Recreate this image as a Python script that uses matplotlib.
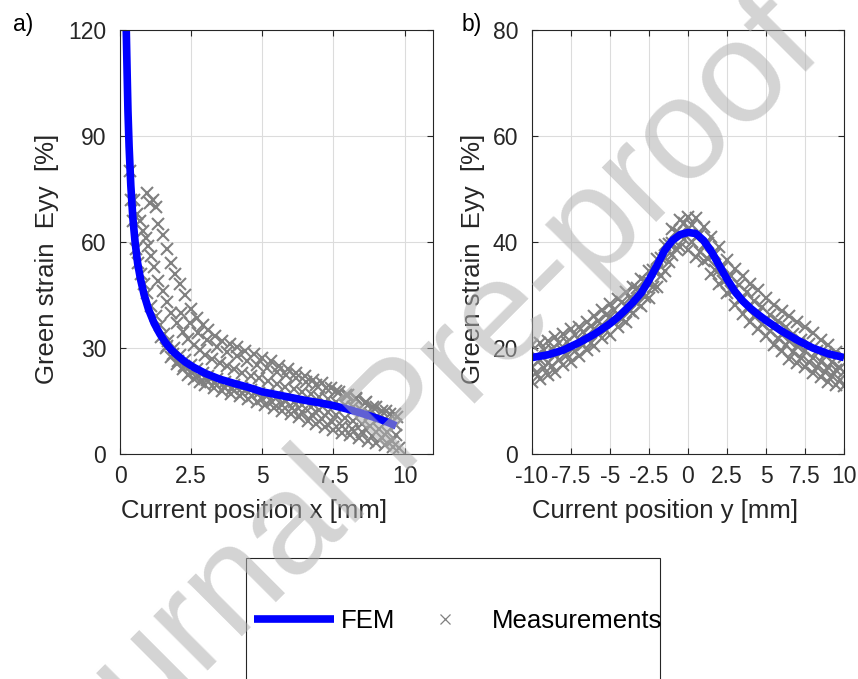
import matplotlib
matplotlib.use("Agg")
import matplotlib.pyplot as plt
from matplotlib.lines import Line2D
from matplotlib.patches import Rectangle

plt.rcParams['font.family'] = ['Liberation Sans', 'DejaVu Sans']

# ---- a) strain along x ----
fem_x_a = [0.22, 0.25, 0.28, 0.32, 0.38, 0.45, 0.53, 0.62, 0.72, 0.85, 1.0, 1.2, 1.4, 1.6,
           1.8, 2.0, 2.3, 2.6, 3.0, 3.5, 4.0, 4.5, 5.0, 5.5, 6.0, 6.5, 7.0, 7.5, 8.0, 8.5,
           9.0, 9.4, 9.7]
fem_y_a = [120, 108, 97, 87, 76, 67, 60, 54, 49.5, 45, 41, 37, 34, 31.5,
           29.5, 28, 26, 24.5, 22.8, 21.2, 20, 18.9, 17.6, 16.8, 16, 15.2, 14.5, 13.7, 12.7, 11.5,
           10.2, 9, 8]

meas_a_x1 = [0.95, 1.05, 1.15, 1.25, 1.35, 1.5, 1.65, 1.8, 1.95, 2.1, 2.3, 2.5, 2.7, 2.9, 3.1,
             3.35, 3.6, 3.85, 4.1, 4.4, 4.7, 5.0, 5.3, 5.6, 5.9, 6.2, 6.5, 6.8, 7.1, 7.4, 7.7,
             8.0, 8.3, 8.6, 8.9, 9.2, 9.5, 9.75]
meas_a_y1 = [74, 71, 72, 70, 65, 62, 58, 54, 51, 48, 45, 41, 38.5, 36.5, 35,
             33.5, 32, 31, 30.2, 29.2, 28.2, 27.2, 26.2, 25, 24, 23, 22, 21, 20, 18.8, 17.6,
             16.6, 15.6, 14.4, 13.3, 12.3, 11.3, 10.4]

meas_a_x2 = [0.5, 0.6, 0.7, 0.8, 0.9, 1.0, 1.1, 1.2, 1.35, 1.5, 1.65, 1.8, 2.0, 2.2, 2.4, 2.6,
             2.8, 3.0, 3.25, 3.5, 3.75, 4.0, 4.3, 4.6, 4.9, 5.2, 5.5, 5.8, 6.1, 6.4, 6.7, 7.0,
             7.3, 7.6, 7.9, 8.2, 8.5, 8.8, 9.1, 9.4, 9.7]
meas_a_y2 = [72, 68, 66, 63, 61, 59, 56, 53, 49, 46, 43, 40, 37, 34.5, 32.5, 30.8,
             29.3, 28, 26.8, 25.8, 24.8, 24, 23, 22.2, 21.4, 20.6, 19.8, 19, 18.3, 17.6, 16.9, 16.2,
             15.5, 14.8, 14, 13.2, 12.2, 11.2, 10.2, 9.2, 8.2]

meas_a_x3 = [0.35, 0.4, 0.45, 0.55, 0.65, 0.75, 0.85, 0.95, 1.1, 1.25, 1.4, 1.55, 1.7, 1.9,
             2.1, 2.3, 2.5, 2.7, 2.9, 3.1, 3.4, 3.7, 4.0, 4.3, 4.6, 4.9, 5.2, 5.5, 5.8, 6.1,
             6.4, 6.7, 7.0, 7.3, 7.6, 7.9, 8.2, 8.5, 8.8, 9.1, 9.4, 9.7]
meas_a_y3 = [80, 72, 66, 58, 54, 51, 48, 45.5, 42, 39, 36.5, 34, 32, 30,
             28, 26.5, 25.2, 24, 23, 22.2, 21.2, 20.3, 19.6, 18.8, 18, 17.4, 16.7, 16, 15.3, 14.6,
             13.9, 13.2, 12.5, 11.8, 11, 10.2, 9.4, 8.6, 7.8, 7, 6.2, 5.4]

meas_a_x4 = [1.6, 1.8, 2.0, 2.2, 2.4, 2.6, 2.8, 3.0, 3.3, 3.6, 3.9, 4.2, 4.5, 4.8, 5.1, 5.4,
             5.7, 6.0, 6.3, 6.6, 6.9, 7.2, 7.5, 7.8, 8.1, 8.4, 8.7, 9.0, 9.3, 9.6, 9.8]
meas_a_y4 = [30, 27.5, 25.5, 24, 22.5, 21.3, 20.5, 19.6, 18.6, 17.8, 17.1, 16.4, 15.6, 14.8, 14, 13.1,
             12.2, 11.3, 10.4, 9.4, 8.5, 7.6, 6.7, 6, 5.3, 4.5, 3.8, 3.2, 2.6, 2.0, 1.6]

meas_a_x5 = [2.15, 2.45, 2.75, 3.05, 3.4, 3.75, 4.1, 4.45, 4.8, 5.15, 5.5, 5.85, 6.2, 6.55,
             6.9, 7.25, 7.6, 7.95, 8.3, 8.65, 9.0, 9.35, 9.65]
meas_a_y5 = [40, 37, 34.3, 32.2, 30.4, 29, 27.6, 26.4, 25.3, 24.3, 23.3, 22.4, 21.4, 20.5,
             19.6, 18.7, 17.8, 16.8, 15.8, 14.6, 13.4, 12.2, 11.2]

meas_a_x6 = [1.45, 1.65, 1.85, 2.05, 2.25, 2.5, 2.75, 3.05, 3.35, 3.65, 3.95, 4.3, 4.65, 5.0,
             5.35, 5.7, 6.05, 6.4, 6.75, 7.1, 7.45, 7.8, 8.15, 8.5, 8.85, 9.2, 9.55]
meas_a_y6 = [33, 30.5, 28.2, 26.3, 24.8, 23.2, 22, 20.9, 20, 19.1, 18.3, 17.4, 16.5, 15.6,
             14.8, 13.9, 13, 12, 11, 10, 9, 8, 7, 6.1, 5.2, 4.4, 3.6]

# ---- b) strain along y ----
fem_x_b = [-10, -9, -8, -7, -6, -5, -4.5, -4, -3.5, -3, -2.5, -2, -1.5, -1, -0.5, 0, 0.5, 1,
           1.5, 2, 2.5, 3, 3.5, 4, 4.5, 5, 6, 7, 8, 9, 10]
fem_y_b = [18.2, 18.7, 19.6, 21, 22.6, 24.6, 25.8, 27.2, 28.7, 30.4, 32.8, 35.5, 38.4, 40.3,
           41.4, 41.8, 41.6, 40.3, 38.2, 35.6, 33, 30.7, 28.9, 27.5, 26.3, 25.2, 23.2, 21.5,
           20, 18.9, 18.2]

meas_b_x1 = [-10, -9.5, -9, -8.5, -8, -7.5, -7, -6.5, -6, -5.5, -5, -4.5, -4, -3.5, -3, -2.5,
             -2, -1.5, -1, -0.5, 0, 0.5, 1, 1.5, 2, 2.5, 3, 3.5, 4, 4.5, 5, 5.5, 6, 6.5, 7,
             7.5, 8, 8.5, 9, 9.5, 10]
meas_b_y1 = [20.5, 21, 21.3, 22, 22.6, 23.5, 24, 25, 26, 27.2, 28.3, 29.2, 30.5, 31.6, 33, 34.6,
             36.8, 39.5, 42.5, 44.2, 44.8, 44.5, 42.8, 41, 39, 36.6, 35, 33.5, 32, 31, 29.5, 28.2,
             27, 26, 25, 24, 22.8, 21.6, 20.5, 19.2, 18.3]
meas_b_y2 = [16.5, 17.8, 17.2, 18.6, 19.4, 20, 21.5, 22.2, 23.6, 24.4, 25.8, 26.5, 28, 29, 30.8,
             32.5, 34.5, 37, 39.8, 41.5, 42.5, 41, 39.5, 37.5, 34.8, 33, 31.2, 29.5, 28, 26.6,
             25.3, 24, 22.5, 21.4, 20.3, 19.4, 18.2, 17.3, 16.5, 15.8, 15.5]
meas_b_y3 = [13.5, 14.2, 15, 15.5, 16.8, 17.3, 18.5, 19.6, 20.3, 21.8, 22.5, 24, 25, 26.6, 28,
             29.5, 31.5, 34.5, 37.5, 39, 38.5, 37.2, 36.5, 34, 32, 30.3, 28.2, 26.5, 25, 23.5,
             22.3, 20.5, 19.4, 18, 17.2, 16.4, 15.2, 14.5, 13.6, 13, 12.8]

meas_b_x4 = [-9.75, -9.25, -8.75, -8.25, -7.75, -7.25, -6.75, -6.25, -5.75, -5.25, -4.75, -4.25,
             -3.75, -3.25, -2.75, -2.25, -1.75, -1.25, -0.75, -0.25, 0.25, 0.75, 1.25, 1.75,
             2.25, 2.75, 3.25, 3.75, 4.25, 4.75, 5.25, 5.75, 6.25, 6.75, 7.25, 7.75, 8.25,
             8.75, 9.25, 9.75]
meas_b_y4 = [18.5, 19.6, 19.8, 21, 21.2, 22.5, 23, 24.2, 25.1, 26.3, 27.2, 28.6, 29.4, 31.3,
             32.6, 34.8, 36.9, 39.6, 41.8, 43.6, 43.2, 41.5, 39.8, 37.8, 35.2, 33.6, 31.8, 30.5,
             28.8, 27.8, 26.2, 25.1, 24, 22.7, 21.6, 20.8, 19.5, 18.6, 17.4, 16.3]
meas_b_y5 = [15.2, 16.3, 16.6, 17.8, 18.6, 19.5, 20.6, 21, 22.6, 23.4, 24.8, 25.5, 27, 28.4,
             29.6, 31.6, 33.5, 36.3, 38.7, 40.5, 40, 38.2, 36.8, 34.8, 32.6, 30.8, 29, 27.5,
             26, 24.5, 23.2, 21.8, 20.6, 19.3, 18.2, 17.3, 16.4, 15.5, 14.8, 14]

xticks_a = [0, 2.5, 5, 7.5, 10]
xticklabels_a = ['0', '2.5', '5', '7.5', '10']
yticks_a = [0, 30, 60, 90, 120]
xticks_b = [-10, -7.5, -5, -2.5, 0, 2.5, 5, 7.5, 10]
xticklabels_b = ['-10', '-7.5', '-5', '-2.5', '0', '2.5', '5', '7.5', '10']
yticks_b = [0, 20, 40, 60, 80]

DARK = '#262626'
GRAY = '#808080'
BLUE = '#0000ff'

fig = plt.figure(figsize=(8.58, 6.79), dpi=100)
ax_a = fig.add_axes([120 / 858, 1 - 454 / 679, 313 / 858, 424 / 679])
ax_b = fig.add_axes([532 / 858, 1 - 454 / 679, 312 / 858, 424 / 679])


def style_axes(ax):
    ax.set_axisbelow(True)
    ax.grid(True, color='#dcdcdc', linewidth=0.8)
    for s in ax.spines.values():
        s.set_color(DARK)
        s.set_linewidth(0.8)
    ax.tick_params(direction='in', length=4, width=0.8, color=DARK, labelcolor=DARK,
                   labelsize=16.5, top=True, right=True)
    ax.tick_params(axis='x', pad=8)
    ax.tick_params(axis='y', pad=10)


mk = dict(linestyle='none', marker='x', color=GRAY, markersize=8.5, markeredgewidth=1.5)

for mx, my in [(meas_a_x1, meas_a_y1), (meas_a_x2, meas_a_y2), (meas_a_x3, meas_a_y3),
               (meas_a_x4, meas_a_y4), (meas_a_x5, meas_a_y5), (meas_a_x6, meas_a_y6)]:
    ax_a.plot(mx, my, **mk)
ax_a.plot(fem_x_a, fem_y_a, color=BLUE, linewidth=5.5, solid_capstyle='butt')
ax_a.set_xlim(0, 11)
ax_a.set_ylim(0, 120)
ax_a.set_xticks(xticks_a)
ax_a.set_xticklabels(xticklabels_a)
ax_a.set_yticks(yticks_a)
style_axes(ax_a)

for mx, my in [(meas_b_x1, meas_b_y1), (meas_b_x1, meas_b_y2), (meas_b_x1, meas_b_y3),
               (meas_b_x4, meas_b_y4), (meas_b_x4, meas_b_y5)]:
    ax_b.plot(mx, my, **mk)
ax_b.plot(fem_x_b, fem_y_b, color=BLUE, linewidth=5.5, solid_capstyle='butt')
ax_b.set_xlim(-10, 10)
ax_b.set_ylim(0, 80)
ax_b.set_xticks(xticks_b)
ax_b.set_xticklabels(xticklabels_b)
ax_b.set_yticks(yticks_b)
style_axes(ax_b)

for ax, xl, lx, ly in [(ax_a, 'Current position x [mm]', -0.233, 0.461),
                       (ax_b, 'Current position y [mm]', -0.189, 0.461)]:
    ax.set_xlabel(xl, fontsize=18.5, color=DARK, va='center')
    ax.xaxis.set_label_coords(0.428, -0.135)
    ax.set_ylabel('Green strain  Eyy  [%]', fontsize=18.5, color=DARK, va='center')
    ax.yaxis.set_label_coords(lx, ly)

fig.text(13 / 858, 1 - 25 / 679, 'a)', fontsize=16.5, ha='left', va='center')
fig.text(462 / 858, 1 - 25 / 679, 'b)', fontsize=16.5, ha='left', va='center')

# legend box (runs off the bottom of the figure)
fig.patches.append(Rectangle((246 / 858, -0.05), 414 / 858, 0.05 + 1 - 558 / 679,
                             transform=fig.transFigure, facecolor='white',
                             edgecolor=DARK, linewidth=0.8, zorder=1))
h_fem = Line2D([], [], color=BLUE, linewidth=5.5, solid_capstyle='butt')
h_meas = Line2D([], [], linestyle='none', marker='x', color=GRAY, markersize=7,
                markeredgewidth=0.9)
fig.legend([h_fem, h_meas], ['FEM', 'Measurements'], loc='center left',
           bbox_to_anchor=(254 / 858, 1 - 621 / 679), ncol=2, frameon=False,
           fontsize=18.5, handlelength=3.1, handletextpad=0.28, columnspacing=0.4,
           borderpad=0, borderaxespad=0)

# watermark
fig.text(0.472, 0.381, 'Journal Pre-proof', fontsize=104, rotation=45, ha='center',
         va='center', rotation_mode='anchor', color='#b0b0b0', alpha=0.55, zorder=10)

fig.savefig('out.png', dpi=100)
